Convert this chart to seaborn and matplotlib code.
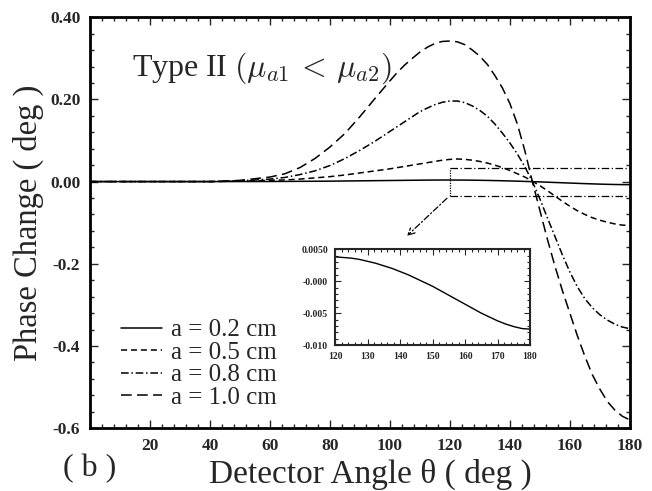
import numpy as np
import pandas as pd
import matplotlib
matplotlib.use("Agg")
import matplotlib.pyplot as plt
from matplotlib.ticker import MultipleLocator, FixedLocator, FixedFormatter
from matplotlib.lines import Line2D
import seaborn as sns

# Detector angle (deg)
angle = [0, 40, 45, 50, 55, 60, 65, 70, 75, 80, 85, 90, 95,
         100, 102.5, 105, 107.5, 110, 112.5, 115, 117.5, 120, 122.5, 125, 127.5,
         130, 132.5, 135, 137.5, 140, 142.5, 145, 147.5, 150, 152.5, 155, 157.5,
         160, 162.5, 165, 167.5, 170, 172.5, 175, 177.5, 180]

# Phase change (deg) for each inclusion radius
phase_a02 = [0.0, 0.0, 0.0, 0.0001, 0.0001, 0.0002, 0.0004, 0.0006, 0.0008, 0.0010,
             0.0014, 0.0018, 0.0022,
             0.0026, 0.0028, 0.0030, 0.0032, 0.0034, 0.0036, 0.0037, 0.0038, 0.0038,
             0.0037, 0.0036, 0.0034, 0.0031, 0.0028, 0.0024, 0.0020, 0.0015, 0.0010,
             0.0004, -0.0002, -0.0008, -0.0015, -0.0022, -0.0029, -0.0036, -0.0043,
             -0.0050, -0.0056, -0.0062, -0.0067, -0.0071, -0.0074, -0.0075]
phase_a05 = [0.0, 0.0, 0.0005, 0.001, 0.002, 0.003, 0.004, 0.006, 0.009, 0.012,
             0.016, 0.021, 0.026,
             0.031, 0.034, 0.037, 0.040, 0.043, 0.046, 0.049, 0.052, 0.054, 0.055,
             0.054, 0.052, 0.049, 0.045, 0.040, 0.034, 0.027, 0.019, 0.011, 0.001,
             -0.010, -0.022, -0.035, -0.048, -0.060, -0.071, -0.080, -0.088, -0.094,
             -0.099, -0.103, -0.106, -0.107]
phase_a08 = [0.0, 0.0, 0.001, 0.002, 0.004, 0.006, 0.010, 0.017, 0.026, 0.039,
             0.056, 0.076, 0.098,
             0.122, 0.134, 0.146, 0.158, 0.170, 0.179, 0.187, 0.193, 0.196, 0.196,
             0.192, 0.184, 0.173, 0.159, 0.140, 0.118, 0.094, 0.067, 0.036, 0.0,
             -0.042, -0.088, -0.133, -0.178, -0.220, -0.256, -0.285, -0.307, -0.324,
             -0.337, -0.347, -0.354, -0.358]
phase_a10 = [0.0, 0.0, 0.001, 0.003, 0.007, 0.011, 0.019, 0.034, 0.056, 0.084,
             0.117, 0.158, 0.202,
             0.245, 0.266, 0.284, 0.300, 0.315, 0.327, 0.336, 0.341, 0.342, 0.340,
             0.333, 0.320, 0.305, 0.285, 0.258, 0.228, 0.190, 0.140, 0.075, 0.0,
             -0.070, -0.140, -0.205, -0.265, -0.320, -0.375, -0.425, -0.470, -0.505,
             -0.535, -0.556, -0.571, -0.580]

legend_labels = ["a = 0.2 cm", "a = 0.5 cm", "a = 0.8 cm", "a = 1.0 cm"]
y_ticks = [0.40, 0.20, 0.00, -0.2, -0.4, -0.6]
y_tick_labels = ["0.40", "0.20", "0.00", "-0.2", "-0.4", "-0.6"]
x_ticks = [20, 40, 60, 80, 100, 120, 140, 160, 180]
inset_x_ticks = [120, 130, 140, 150, 160, 170, 180]
inset_y_ticks = [0.005, 0.0, -0.005, -0.010]
inset_y_labels = ["0.0050", "-0.000", "-0.005", "-0.010"]

sns.set_style("ticks")
plt.rcParams["font.family"] = ["Liberation Serif", "DejaVu Serif"]
plt.rcParams["mathtext.fontset"] = "cm"

styles = ["-", (0, (4.0, 2.5)), (0, (5, 1.8, 1, 1.8)), (0, (7, 3.5))]
series = [phase_a02, phase_a05, phase_a08, phase_a10]

fig = plt.figure(figsize=(6.52, 4.91), dpi=100)
ax = fig.add_axes([0.138, 0.128, 0.828, 0.837])

for vals, ls in zip(series, styles):
    df = pd.DataFrame({"angle": angle, "phase": vals})
    sns.lineplot(data=df, x="angle", y="phase", ax=ax, color="black",
                 linewidth=1.1, linestyle=ls, legend=False)

ax.set_xlim(0, 180)
ax.set_ylim(-0.6, 0.4)
ax.xaxis.set_major_locator(FixedLocator(x_ticks))
ax.xaxis.set_minor_locator(MultipleLocator(4))
ax.yaxis.set_major_locator(FixedLocator(y_ticks))
ax.yaxis.set_major_formatter(FixedFormatter(y_tick_labels))
ax.yaxis.set_minor_locator(MultipleLocator(0.04))
ax.tick_params(which="both", direction="in", top=True, right=True, width=1.0)
ax.tick_params(which="major", length=6, pad=7)
ax.tick_params(which="minor", length=3)
for lbl in ax.get_xticklabels() + ax.get_yticklabels():
    lbl.set_fontweight("bold")
    lbl.set_fontsize(12.5)
for sp in ax.spines.values():
    sp.set_linewidth(2.0)
    sp.set_color("black")

ax.set_xlabel("Detector Angle θ ( deg )", fontsize=24)
ax.xaxis.set_label_coords(0.52, -0.075)
ax.set_ylabel("Phase Change ( deg )", fontsize=23.5)
ax.yaxis.set_label_coords(-0.085, 0.5)

ax.text(0.077, 0.875, r"Type II $(\mu_{a1}\,<\,\mu_{a2})$", transform=ax.transAxes,
        fontsize=23, va="center", ha="left")
fig.text(0.097, 0.045, "( b )", fontsize=23, va="center", ha="left")

# zoom box and pointer to the inset
ax.plot([120, 180], [0.032, 0.032], color="black", lw=0.9, ls=(0, (6, 2, 1, 2)))
ax.plot([120, 180], [-0.036, -0.036], color="black", lw=0.9, ls=(0, (6, 2, 1, 2)))
ax.plot([120, 120], [-0.036, 0.032], color="black", lw=0.9, ls=(0, (1, 1)))
ax.annotate("", xy=(105, -0.137), xytext=(119.7, -0.036),
            arrowprops=dict(arrowstyle="->", color="black", lw=0.9,
                            linestyle=(0, (5, 2, 1, 2)), mutation_scale=12))

handles = [Line2D([], [], color="black", lw=1.1, ls=ls) for ls in styles]
ax.legend(handles, legend_labels, loc="upper left", bbox_to_anchor=(0.057, 0.266),
          frameon=False, fontsize=18, handlelength=1.65, handletextpad=0.38,
          labelspacing=0.0, borderpad=0, borderaxespad=0)

# inset: small-radius curve magnified
inset = fig.add_axes([0.514, 0.297, 0.299, 0.1955])
i0 = angle.index(120)
sns.lineplot(x=angle[i0:], y=phase_a02[i0:], ax=inset, color="black", linewidth=1.0)
inset.set_xlim(120, 180)
inset.set_ylim(-0.010, 0.005)
inset.xaxis.set_major_locator(FixedLocator(inset_x_ticks))
inset.xaxis.set_minor_locator(MultipleLocator(2))
inset.yaxis.set_major_locator(FixedLocator(inset_y_ticks))
inset.yaxis.set_major_formatter(FixedFormatter(inset_y_labels))
inset.yaxis.set_minor_locator(MultipleLocator(0.001))
inset.tick_params(which="both", direction="in", top=True, right=True, width=0.8)
inset.tick_params(which="major", length=4, labelsize=7, pad=5)
inset.tick_params(which="minor", length=2)
for lbl in inset.get_xticklabels() + inset.get_yticklabels():
    lbl.set_fontweight("bold")
for sp in inset.spines.values():
    sp.set_linewidth(1.5)
inset.set_xlabel("")
inset.set_ylabel("")

fig.savefig("out.png", dpi=100)
